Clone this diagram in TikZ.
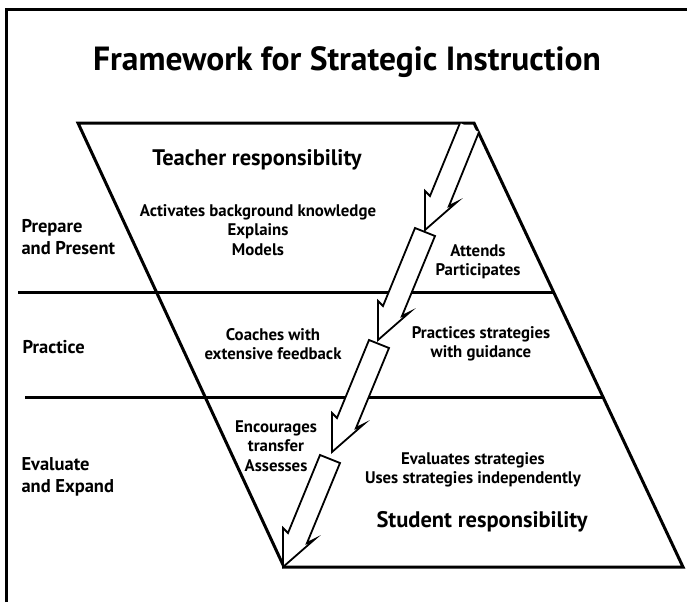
\documentclass[tikz,border=0pt]{standalone}
\usepackage{fontspec}
\setmainfont{PT Sans}
\usetikzlibrary{calc}

\newcommand{\boltpiece}[2]{%
  \draw[bolt] (#1,#2) -- ++(-32,78) -- ++(-5,-5) -- ++(0,39) -- ++(32,-28) -- ++(-8,4) -- ++(33,-80) -- cycle;}

\begin{document}
\begin{tikzpicture}[x=1pt, y=-1pt,
    rule/.style={line width=3pt},
    bolt/.style={line width=1.8pt, fill=white, line join=miter},
    lbl/.style={font=\fontsize{16.8}{19.5}\selectfont\bfseries, align=center},
    side/.style={font=\fontsize{18.5}{22}\selectfont\bfseries, align=left, anchor=west},
    head/.style={font=\fontsize{22.5}{26}\selectfont\bfseries}]
    \useasboundingbox (0,0) rectangle (687,602);
    \draw[rule] (6,602) -- (6,10) -- (687,10);

    \coordinate (tl) at (78,123);
    \coordinate (tr) at (474,123);
    \coordinate (br) at (683,567);
    \coordinate (bl) at (284,567);

    \draw[rule] (18,292) -- (553,292);
    \draw[rule] (25,397) -- (602,397);
    \draw[rule, line join=miter] (tl) -- (tr) -- (br) -- (bl) -- cycle;

    \draw[bolt] (460,123) -- (430,196) -- (425,191) -- (425,230) -- (457,202) -- (449,206) -- (479,132);
    \boltpiece{415}{228}
    \boltpiece{369}{340}
    \boltpiece{320}{455}

    \node[font=\fontsize{33.5}{40}\selectfont\bfseries] (title) at (347,62) {Framework for Strategic Instruction};
    \node[head] (teacher) at (257,160) {Teacher responsibility};
    \node[lbl] (models) at (258,230) {Activates background knowledge\\Explains\\Models};
    \node[side] (prep) at (18,237) {Prepare\\and Present};
    \node[side] (prac) at (19,347) {Practice};
    \node[side] (eval) at (18,477) {Evaluate\\and Expand};
    \node[lbl] (attends) at (478,262) {Attends\\Participates};
    \node[lbl] (coach) at (273,344) {Coaches with\\extensive feedback};
    \node[lbl] (practices) at (481,344) {Practices strategies\\with guidance};
    \node[lbl] (encourage) at (276,446) {Encourages\\transfer\\Assesses};
    \node[lbl] (evals) at (473,470) {Evaluates strategies\\Uses strategies independently};
    \node[head] (student) at (482,522) {Student responsibility};
\end{tikzpicture}
\end{document}
